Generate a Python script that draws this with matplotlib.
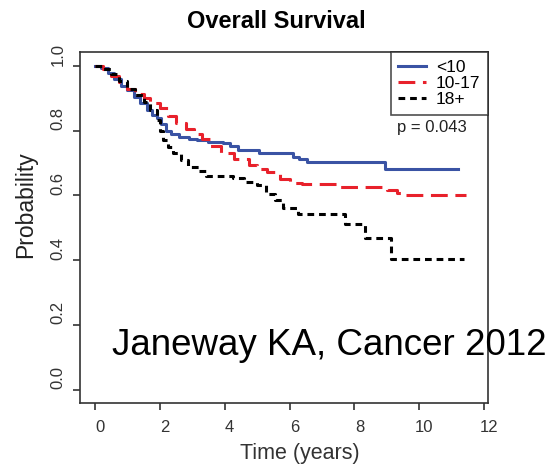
import matplotlib
matplotlib.use("Agg")
import matplotlib.pyplot as plt
from matplotlib.transforms import ScaledTranslation
import numpy as np

plt.rcParams["font.family"] = ["Liberation Sans", "DejaVu Sans"]

# Kaplan-Meier step points
t_lt10 = [0, 0.2, 0.4, 0.6, 0.8, 1.0, 1.2, 1.4, 1.6, 1.75, 1.9, 2.05, 2.2, 2.35, 2.6, 2.9, 3.15, 3.5, 3.95, 4.15, 4.4, 5.05, 6.1, 6.3, 6.55, 8.95, 11.2]
s_lt10 = [1.0, 0.995, 0.98, 0.96, 0.94, 0.925, 0.905, 0.885, 0.865, 0.85, 0.84, 0.82, 0.80, 0.79, 0.78, 0.775, 0.77, 0.766, 0.762, 0.752, 0.742, 0.730, 0.72, 0.712, 0.704, 0.683, 0.683]

t_10_17 = [0, 0.25, 0.5, 0.75, 1.0, 1.25, 1.5, 1.7, 2.0, 2.25, 2.5, 2.8, 3.05, 3.3, 3.55, 3.9, 4.3, 4.75, 5.0, 5.3, 5.7, 6.0, 6.4, 7.45, 9.0, 9.3, 9.5, 11.45]
s_10_17 = [1.0, 0.99, 0.97, 0.95, 0.93, 0.915, 0.90, 0.885, 0.869, 0.845, 0.823, 0.805, 0.79, 0.775, 0.752, 0.730, 0.712, 0.694, 0.683, 0.673, 0.652, 0.639, 0.635, 0.627, 0.617, 0.608, 0.600, 0.600]

t_18 = [0, 0.25, 0.5, 0.75, 1.0, 1.25, 1.5, 1.7, 1.9, 2.0, 2.1, 2.25, 2.42, 2.65, 2.88, 3.2, 3.44, 4.27, 4.6, 4.99, 5.29, 5.55, 5.81, 6.27, 7.71, 8.33, 9.13, 11.38]
s_18 = [1.0, 0.99, 0.975, 0.955, 0.93, 0.91, 0.89, 0.865, 0.833, 0.80, 0.771, 0.75, 0.730, 0.71, 0.689, 0.675, 0.660, 0.653, 0.642, 0.632, 0.606, 0.585, 0.560, 0.543, 0.512, 0.467, 0.405, 0.405]

group_labels = ["<10", "10-17", "18+"]
x_ticks = [0, 2, 4, 6, 8, 10, 12]
y_ticks = [0.0, 0.2, 0.4, 0.6, 0.8, 1.0]

fig = plt.figure(figsize=(5.54, 4.66), dpi=100)
ax = fig.add_axes([0.1444, 0.135, 0.7365, 0.753])

ax.step(t_lt10, s_lt10, where="post", color="#3a53a4", lw=2.2, ls="-", label=group_labels[0])
ax.step(t_10_17, s_10_17, where="post", color="#e8212b", lw=2.2, ls=(0, (5.5, 2.5)), label=group_labels[1])
ax.step(t_18, s_18, where="post", color="black", lw=2.2, ls=(0, (2.2, 1.6)), label=group_labels[2])

ax.set_xlim(-0.46, 12.12)
ax.set_ylim(-0.042, 1.043)
ax.set_xticks(x_ticks)
ax.set_yticks(y_ticks)
ax.set_xticklabels([str(v) for v in x_ticks], fontsize=12, color="#333333")
ax.set_yticklabels(["%.1f" % v for v in y_ticks], fontsize=12, color="#333333",
                   rotation=90, va="center")
ax.tick_params(direction="out", length=5, width=1.2, color="#333333")
ax.tick_params(axis="x", pad=7.5)
ax.tick_params(axis="y", pad=5.5)
for sp in ax.spines.values():
    sp.set_linewidth(1.2)
    sp.set_color("#333333")

# the labels in the picture sit a little off their ticks
for lab in ax.get_yticklabels():
    lab.set_transform(lab.get_transform() + ScaledTranslation(0, 0.12, fig.dpi_scale_trans))
for lab in ax.get_xticklabels():
    lab.set_transform(lab.get_transform() + ScaledTranslation(0.05, 0, fig.dpi_scale_trans))

fig.text(276 / 554, 1 - 22 / 466, "Overall Survival", fontsize=17, fontweight="bold",
         ha="center", va="center")
ax.set_xlabel("Time (years)", fontsize=15.5, color="#333333", va="baseline")
ax.xaxis.set_label_coords(0.539, (403 - 459) / 351)
ax.set_ylabel("Probability", fontsize=16.5, color="#222222")
ax.yaxis.set_label_coords(-0.105, 0.567)

leg = ax.legend(loc="upper right", frameon=True, fancybox=False, fontsize=12.5,
                handlelength=1.6, borderaxespad=0, borderpad=0.45,
                labelspacing=0.05, handletextpad=0.55)
leg.get_frame().set_edgecolor("#222222")
leg.get_frame().set_linewidth(1.2)

ax.text((397 - 80) / 408, (403 - 127) / 351, "p = 0.043", transform=ax.transAxes,
        ha="left", va="center", fontsize=12, color="#222222")

fig.text(112 / 554, 1 - 355 / 466, "Janeway KA, Cancer 2012", fontsize=26.5,
         ha="left", va="baseline", color="black")

fig.savefig("out.png", dpi=100)
